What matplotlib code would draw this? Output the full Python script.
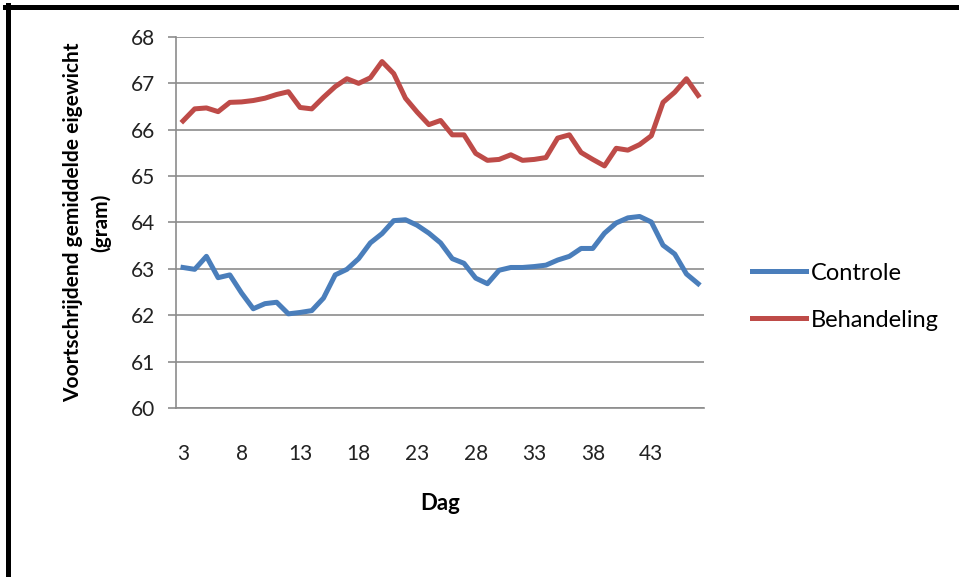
import matplotlib.pyplot as plt
from matplotlib.lines import Line2D

plt.rcParams['font.family'] = ['Lato', 'DejaVu Sans']

# dagen 3 t/m 47
dagen = list(range(3, 48))

controle = [63.03, 62.99, 63.27, 62.81, 62.87, 62.48, 62.14, 62.25, 62.28, 62.03,
            62.06, 62.10, 62.37, 62.87, 62.99, 63.22, 63.56, 63.76, 64.04, 64.06,
            63.94, 63.77, 63.56, 63.22, 63.12, 62.80, 62.68, 62.97, 63.03, 63.03,
            63.05, 63.08, 63.19, 63.27, 63.44, 63.44, 63.77, 63.99, 64.10, 64.13,
            64.01, 63.51, 63.32, 62.89, 62.68]

behandeling = [66.19, 66.45, 66.47, 66.39, 66.59, 66.60, 66.63, 66.68, 66.76, 66.82,
               66.48, 66.45, 66.70, 66.93, 67.10, 67.00, 67.12, 67.47, 67.21, 66.68,
               66.38, 66.11, 66.20, 65.89, 65.89, 65.49, 65.34, 65.36, 65.46, 65.34,
               65.36, 65.40, 65.82, 65.89, 65.51, 65.36, 65.22, 65.60, 65.56, 65.68,
               65.87, 66.59, 66.81, 67.10, 66.74]

xticks = [3, 8, 13, 18, 23, 28, 33, 38, 43]
yticks = [60, 61, 62, 63, 64, 65, 66, 67, 68]

fig = plt.figure(figsize=(9.59, 5.77), dpi=100)
ax = fig.add_axes([0.1835, 0.2929, 0.5506, 0.643])

ax.plot(dagen, controle, color='#4A7EBB', linewidth=3.6, label='Controle',
        solid_joinstyle='round')
ax.plot(dagen, behandeling, color='#BE4B48', linewidth=3.6, label='Behandeling',
        solid_joinstyle='round')

ax.set_xlim(2.4, 47.5)
ax.set_ylim(60, 68)
ax.set_xticks(xticks)
ax.set_yticks(yticks)
ax.grid(axis='y', color='#8c8c8c', linewidth=1.2)
ax.set_axisbelow(True)

for side in ['top', 'right']:
    ax.spines[side].set_visible(False)
ax.spines['left'].set_color('#8c8c8c')
ax.spines['bottom'].set_color('#8c8c8c')
ax.spines['left'].set_linewidth(1.2)
ax.spines['bottom'].set_linewidth(1.2)

ax.tick_params(axis='y', length=6, width=1.2, color='#8c8c8c', pad=9,
               labelsize=15, labelcolor='#222222')
ax.tick_params(axis='x', length=0, pad=26, labelsize=15, labelcolor='#222222')

ax.set_xlabel('Dag', fontsize=16, fontweight='bold', labelpad=21)
ax.set_ylabel('Voortschrijdend gemiddelde eigewicht\n(gram)', fontsize=15,
              fontweight='bold', labelpad=14, linespacing=1.45)

ax.legend(loc='center left', bbox_to_anchor=(1.05, 0.30), frameon=False,
          fontsize=17, handlelength=2.3, handletextpad=0.2, labelspacing=1.1)

# zwarte rand boven en links
fig.add_artist(Line2D([5 / 959, 1], [1 - 7 / 577, 1 - 7 / 577],
                      transform=fig.transFigure, color='black', linewidth=3.6))
fig.add_artist(Line2D([7.5 / 959, 7.5 / 959], [0, 1 - 5 / 577],
                      transform=fig.transFigure, color='black', linewidth=3.6))

fig.savefig('out.png', dpi=100)
